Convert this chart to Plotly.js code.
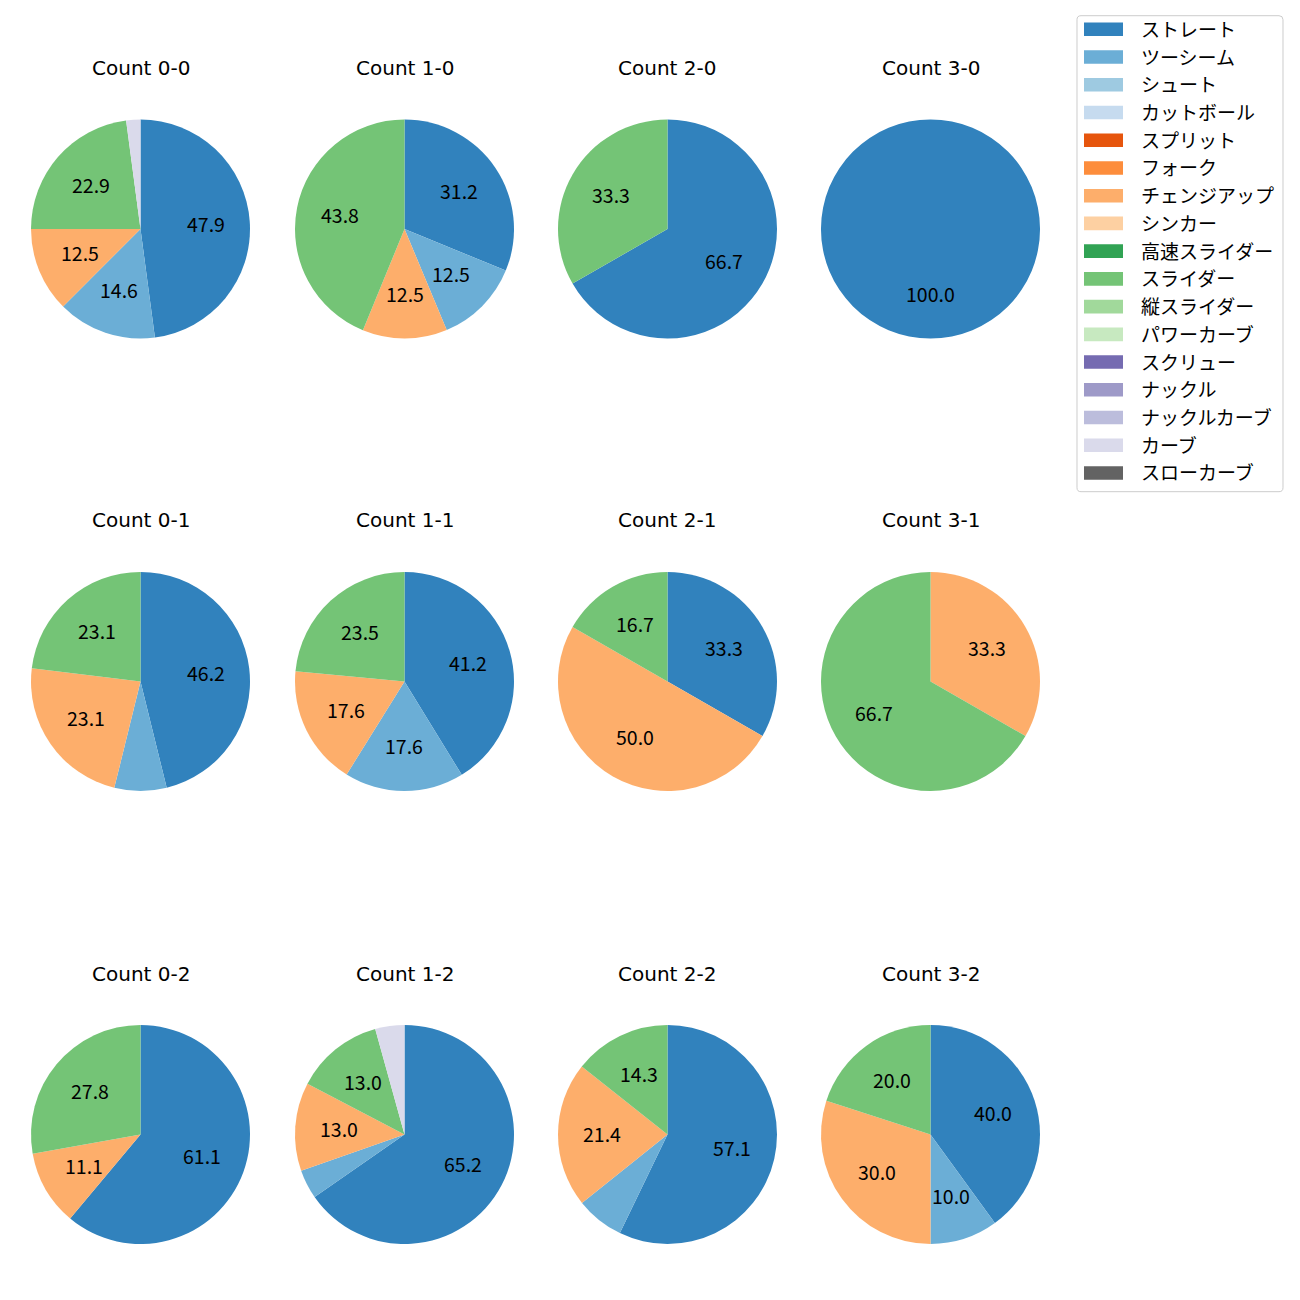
<!DOCTYPE html>
<html>
<head>
<meta charset="utf-8">
<script src="https://cdn.plot.ly/plotly-3.0.1.min.js"></script>
<style>html,body{margin:0;padding:0;background:#fff;}#chart{width:1300px;height:1300px;}</style>
</head>
<body>
<div id="chart"></div>
<script>
// ---- data ----
const categories = ['ストレート','ツーシーム','シュート','カットボール','スプリット','フォーク','チェンジアップ','シンカー','高速スライダー','スライダー','縦スライダー','パワーカーブ','スクリュー','ナックル','ナックルカーブ','カーブ','スローカーブ'];
const counts = ['0-0','1-0','2-0','3-0','0-1','1-1','2-1','3-1','0-2','1-2','2-2','3-2'];
// percentage of pitches per count (order of counts above)
const straight = [47.9, 31.2, 66.7, 100.0, 46.2, 41.2, 33.3, 0, 61.1, 65.2, 57.1, 40.0];
const twoSeam  = [14.6, 12.5, 0, 0, 7.7, 17.6, 0, 0, 0, 4.3, 7.1, 10.0];
const changeup = [12.5, 12.5, 0, 0, 23.1, 17.6, 50.0, 33.3, 11.1, 13.0, 21.4, 30.0];
const slider   = [22.9, 43.8, 33.3, 0, 23.1, 23.5, 16.7, 66.7, 27.8, 13.0, 14.3, 20.0];
const curve    = [2.1, 0, 0, 0, 0, 0, 0, 0, 0, 4.3, 0, 0];

// ---- style ----
const colors = ['#3182bd','#6baed6','#9ecae1','#c6dbef','#e6550d','#fd8d3c','#fdae6b','#fdd0a2','#31a354','#74c476','#a1d99b','#c7e9c0','#756bb1','#9e9ac8','#bcbddc','#dadaeb','#636363'];
const FONT = '"Noto Sans CJK JP", "Noto Sans", sans-serif';
const TITLE_FONT = '"DejaVu Sans", "Noto Sans CJK JP", sans-serif';
const W = 1300, H = 1300;
const colX = [140.5, 404.5, 667.5, 930.5];
const rowY = [229, 681.5, 1134.5];
const R = 109.5;
const px = x => x / W;
const py = y => 1 - y / H;

function valuesFor(i) {
  const v = new Array(categories.length).fill(0);
  v[categories.indexOf('ストレート')] = straight[i];
  v[categories.indexOf('ツーシーム')] = twoSeam[i];
  v[categories.indexOf('チェンジアップ')] = changeup[i];
  v[categories.indexOf('スライダー')] = slider[i];
  v[categories.indexOf('カーブ')] = curve[i];
  return v;
}

const traces = [];
const annotations = [];
const shapes = [];

counts.forEach((c, i) => {
  const col = i % 4, row = Math.floor(i / 4);
  const cx = colX[col], cy = rowY[row];
  const vals = valuesFor(i);
  traces.push({
    type: 'pie',
    labels: categories,
    values: vals,
    sort: false,
    direction: 'clockwise',
    rotation: 0,
    textinfo: 'none',
    marker: {colors: colors, line: {width: 0}},
    domain: {x: [px(cx - R), px(cx + R)], y: [py(cy + R), py(cy - R)]},
    hoverinfo: 'label+percent',
    showlegend: false
  });
  // title
  annotations.push({
    xref: 'paper', yref: 'paper', x: px(cx), y: py(cy - 161),
    xanchor: 'center', yanchor: 'middle', showarrow: false,
    text: 'Count ' + c, font: {family: TITLE_FONT, size: 20, color: '#000'}
  });
  // percentage labels at 0.6 radius (matplotlib autopct style)
  const total = vals.reduce((a, b) => a + b, 0);
  let cum = 0;
  vals.forEach(v => {
    if (v > 0 && v >= 10) {
      const th = 2 * Math.PI * (cum + v / 2) / total;
      annotations.push({
        xref: 'paper', yref: 'paper',
        x: px(cx + 0.6 * R * Math.sin(th)), y: py(cy - 0.6 * R * Math.cos(th) - 1.5),
        xanchor: 'center', yanchor: 'middle', showarrow: false,
        text: v.toFixed(1), font: {family: FONT, size: 19.5, color: '#000'}
      });
    }
    cum += v;
  });
});

// ---- legend (drawn) ----
const L = {x0: 1077, x1: 1283, y0: 15.7, y1: 491.7, r: 4};
const rr = (x0, y0, x1, y1, r) => {
  const X = v => px(v).toFixed(5), Y = v => py(v).toFixed(5);
  return `M${X(x0 + r)},${Y(y0)} L${X(x1 - r)},${Y(y0)} Q${X(x1)},${Y(y0)} ${X(x1)},${Y(y0 + r)} ` +
         `L${X(x1)},${Y(y1 - r)} Q${X(x1)},${Y(y1)} ${X(x1 - r)},${Y(y1)} ` +
         `L${X(x0 + r)},${Y(y1)} Q${X(x0)},${Y(y1)} ${X(x0)},${Y(y1 - r)} ` +
         `L${X(x0)},${Y(y0 + r)} Q${X(x0)},${Y(y0)} ${X(x0 + r)},${Y(y0)} Z`;
};
shapes.push({type: 'path', xref: 'paper', yref: 'paper', path: rr(L.x0, L.y0, L.x1, L.y1, L.r),
  line: {color: '#cccccc', width: 1}, fillcolor: 'rgba(255,255,255,0.8)', layer: 'above'});
const rowStep = 27.73, firstY = 29.3;
categories.forEach((name, k) => {
  const yc = firstY + k * rowStep;
  shapes.push({type: 'rect', xref: 'paper', yref: 'paper',
    x0: px(1084), x1: px(1123), y0: py(yc + 6.8), y1: py(yc - 6.8),
    line: {width: 0}, fillcolor: colors[k], layer: 'above'});
  annotations.push({xref: 'paper', yref: 'paper', x: px(1138.5), y: py(yc - 1),
    xanchor: 'left', yanchor: 'middle', showarrow: false,
    text: name, font: {family: FONT, size: 19, color: '#000'}});
});

const layout = {
  width: W, height: H,
  margin: {l: 0, r: 0, t: 0, b: 0},
  paper_bgcolor: '#ffffff',
  showlegend: false,
  annotations: annotations,
  shapes: shapes,
  font: {family: FONT}
};

Plotly.newPlot('chart', traces, layout, {displayModeBar: false, staticPlot: true});
</script>
</body>
</html>
